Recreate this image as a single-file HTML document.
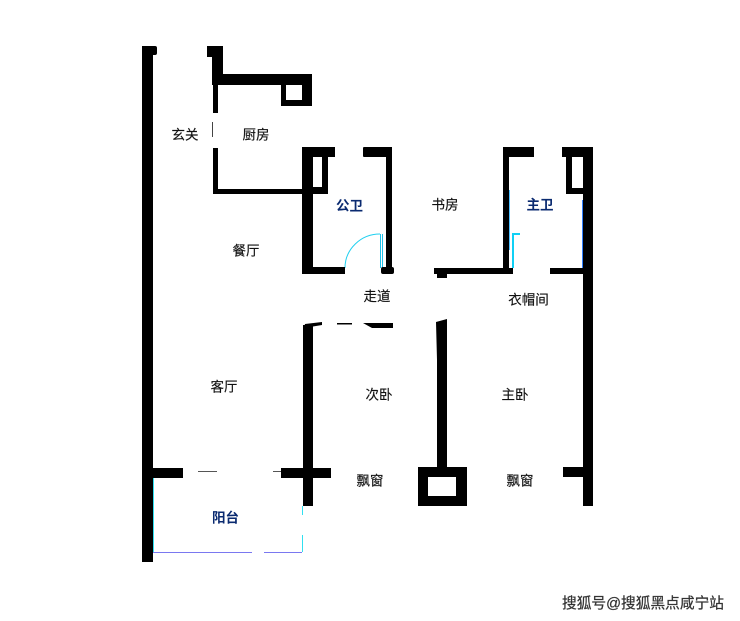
<!DOCTYPE html>
<html><head><meta charset="utf-8"><style>
html,body{margin:0;padding:0;background:#fff;width:740px;height:621px;overflow:hidden}
svg{display:block}
text{font-family:"Liberation Sans","Noto Sans CJK SC",sans-serif;font-size:13.5px;fill:#111;stroke:#111;stroke-width:.15;text-anchor:middle;dominant-baseline:central}
.b{fill:#0a2a70;stroke:none;font-weight:bold}
.w{font-size:14.6px;fill:#333;stroke:#333;stroke-width:.25}
</style></head><body>
<svg width="740" height="621" viewBox="0 0 740 621" xmlns="http://www.w3.org/2000/svg">
<rect width="740" height="621" fill="#fff"/>
<!-- balcony thin lines -->
<g fill="none" stroke-width="1">
<path d="M153.500 478V552" stroke="#30e0f0"/>
<path d="M153 552.500H252M264 552.500H302" stroke="#7a78f0"/>
<path d="M302.500 506V515M302.500 535V552" stroke="#30e0f0"/>
<path d="M345 268A35 34 0 0 1 380 234" stroke="#20d0f0"/>
<path d="M380.500 234V268M382.500 234V268" stroke="#20c0e8"/>
<path d="M513 268V234H520" stroke="#10d0f5" stroke-width="2"/>
<path d="M509.500 190V250" stroke="#50c0ff"/>
<path d="M582.500 200V268" stroke="#3080ff"/>
</g>
<g fill="#000">
<!-- left wall -->
<rect x="142" y="46" width="11" height="516"/>
<rect x="142" y="46" width="15" height="9" rx="2"/>
<rect x="142" y="468" width="41" height="10"/>
<rect x="198" y="471" width="19" height="1" fill="#555"/>
<rect x="273" y="471" width="8" height="1" fill="#555"/>
<rect x="281" y="468" width="50" height="10"/>
<!-- kitchen -->
<rect x="207" y="46" width="16" height="11"/>
<rect x="212" y="46" width="11" height="39"/>
<rect x="212" y="74" width="100" height="11"/>
<rect x="281" y="74" width="5" height="32"/>
<rect x="302" y="74" width="10" height="32"/>
<rect x="281" y="100" width="31" height="6"/>
<rect x="213" y="85" width="5" height="28"/>
<rect x="212" y="122" width="1" height="15" fill="#444"/>
<rect x="213" y="148" width="5" height="46"/>
<rect x="213" y="189" width="90" height="5"/>
<!-- public bath -->
<rect x="302" y="147" width="11" height="127"/>
<rect x="302" y="147" width="33" height="10"/>
<rect x="322" y="157" width="6" height="37"/>
<rect x="313" y="187" width="15" height="7"/>
<rect x="363" y="147" width="29" height="10" rx="1"/>
<rect x="386" y="147" width="6" height="127"/>
<rect x="381" y="267" width="13" height="7" rx="2"/>
<rect x="302" y="267" width="43" height="7"/>
<!-- master bath -->
<rect x="503" y="147" width="6" height="127"/>
<rect x="503" y="147" width="31" height="10"/>
<rect x="434" y="268" width="79" height="6"/>
<rect x="437" y="272" width="10" height="6"/>
<rect x="562" y="147" width="31" height="10"/>
<rect x="583" y="147" width="10" height="359"/>
<rect x="566" y="157" width="6" height="37"/>
<rect x="566" y="188" width="17" height="6"/>
<rect x="550" y="268" width="33" height="6"/>
<rect x="563" y="467" width="20" height="10"/>
<!-- second bedroom -->
<rect x="303" y="325" width="10" height="181"/>
<path d="M303 332L305 324L322 322L322 325L310 327L310 332Z"/>
<rect x="337" y="323" width="15" height="1.500"/>
<path d="M363 323H393V328H372Z"/>
<!-- middle wall -->
<path d="M436 322L447 319V360L447 467H437V360Z"/>
<path fill-rule="evenodd" d="M418 467H467V506H418ZM428 477V496H456V477Z"/>
</g>
<text x="185" y="135">玄关</text>
<text x="256" y="135">厨房</text>
<text x="349.500" y="206" class="b">公卫</text>
<text x="445" y="205">书房</text>
<text x="540" y="205" class="b">主卫</text>
<text x="246" y="251">餐厅</text>
<text x="377" y="296.500">走道</text>
<text x="528.500" y="300">衣帽间</text>
<text x="224" y="387">客厅</text>
<text x="379" y="395">次卧</text>
<text x="515" y="395">主卧</text>
<text x="370" y="481">飘窗</text>
<text x="520" y="481">飘窗</text>
<text x="225.500" y="518" class="b">阳台</text>
<text x="643" y="604" class="w" textLength="162" lengthAdjust="spacingAndGlyphs">搜狐号@搜狐黑点咸宁站</text>
</svg>
</body></html>
